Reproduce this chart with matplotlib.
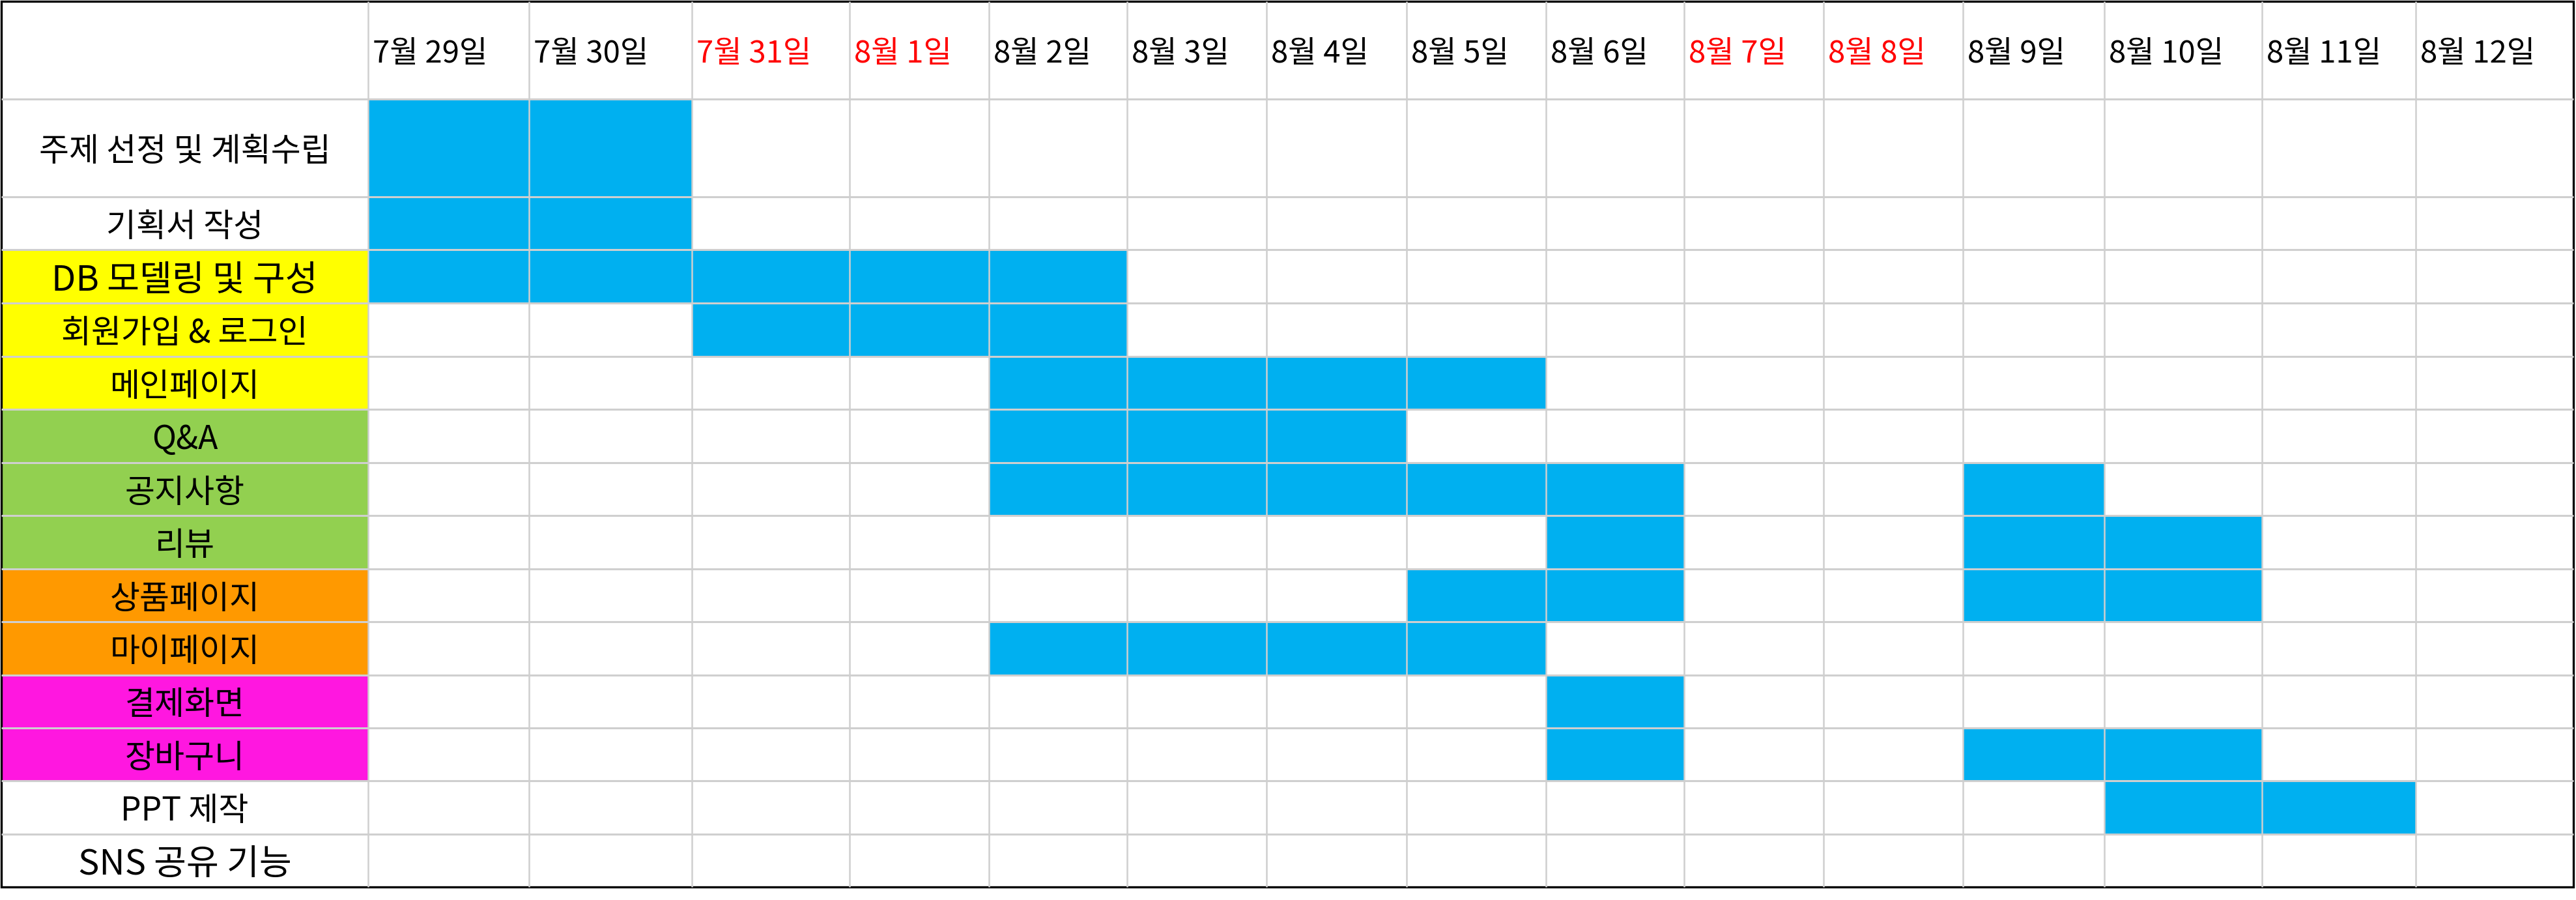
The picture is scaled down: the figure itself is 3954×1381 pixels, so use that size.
import matplotlib
matplotlib.use("Agg")
import matplotlib.pyplot as plt
from matplotlib.patches import Rectangle

plt.rcParams['font.family'] = ['Noto Sans CJK KR', 'DejaVu Sans']

# data
days = ['7월 29일', '7월 30일', '7월 31일', '8월 1일', '8월 2일', '8월 3일', '8월 4일',
        '8월 5일', '8월 6일', '8월 7일', '8월 8일', '8월 9일', '8월 10일', '8월 11일', '8월 12일']
holidays = ['7월 31일', '8월 1일', '8월 7일', '8월 8일']

tasks = ['주제 선정 및 계획수립', '기획서 작성', 'DB 모델링 및 구성', '회원가입 & 로그인',
         '메인페이지', 'Q&A', '공지사항', '리뷰', '상품페이지', '마이페이지',
         '결제화면', '장바구니', 'PPT 제작', 'SNS 공유 기능']
task_groups = ['none', 'none', 'base', 'base', 'base', 'board', 'board', 'board',
               'shop', 'shop', 'order', 'order', 'none', 'none']

# days worked on for each task
schedule = [
    ['7월 29일', '7월 30일'],
    ['7월 29일', '7월 30일'],
    ['7월 29일', '7월 30일', '7월 31일', '8월 1일', '8월 2일'],
    ['7월 31일', '8월 1일', '8월 2일'],
    ['8월 2일', '8월 3일', '8월 4일', '8월 5일'],
    ['8월 2일', '8월 3일', '8월 4일'],
    ['8월 2일', '8월 3일', '8월 4일', '8월 5일', '8월 6일', '8월 9일'],
    ['8월 6일', '8월 9일', '8월 10일'],
    ['8월 5일', '8월 6일', '8월 9일', '8월 10일'],
    ['8월 2일', '8월 3일', '8월 4일', '8월 5일'],
    ['8월 6일'],
    ['8월 6일', '8월 9일', '8월 10일'],
    ['8월 10일', '8월 11일'],
    [],
]

group_colors = {'none': 'white', 'base': '#FFFF00', 'board': '#92D050',
                'shop': '#FF9900', 'order': '#FF17E0'}
bar_color = '#00B0F0'
grid_color = '#CFCFCF'

# layout (pixels)
W, H = 3954, 1381
left, top = 2, 2
label_w = 563
col_w = [247, 250, 242, 214, 212, 214, 215, 214, 212, 214, 214, 217, 242, 236, 242]
header_h = 150
row_h = [150, 81, 82, 82, 81, 82, 81, 82, 81, 82, 81, 81, 82, 81]
text_dy = 6

x_edges = [left + label_w]
for w in col_w:
    x_edges.append(x_edges[-1] + w)
y_edges = [top + header_h]
for h in row_h:
    y_edges.append(y_edges[-1] + h)
right, bottom = x_edges[-1], y_edges[-1]

fig = plt.figure(figsize=(W / 100, H / 100), dpi=100)
ax = fig.add_axes([0, 0, 1, 1])
ax.set_xlim(0, W)
ax.set_ylim(H, 0)
ax.axis('off')

# label cells
for i, task in enumerate(tasks):
    y0, y1 = y_edges[i], y_edges[i + 1]
    ax.add_patch(Rectangle((left, y0), label_w, y1 - y0,
                           facecolor=group_colors[task_groups[i]], edgecolor='none'))
    size = 39 if task in ('DB 모델링 및 구성', 'SNS 공유 기능') else 36
    ax.text(left + label_w / 2, (y0 + y1) / 2 + text_dy, task, ha='center', va='center',
            fontsize=size, color='black')

# schedule cells
for i, worked in enumerate(schedule):
    y0, y1 = y_edges[i], y_edges[i + 1]
    for d in worked:
        j = days.index(d)
        ax.add_patch(Rectangle((x_edges[j], y0), x_edges[j + 1] - x_edges[j], y1 - y0,
                               facecolor=bar_color, edgecolor='none'))

# header
for j, d in enumerate(days):
    ax.text(x_edges[j] + 7, top + header_h / 2 + text_dy, d, ha='left', va='center',
            fontsize=34, color='red' if d in holidays else 'black')

# grid
for x in x_edges[:-1]:
    ax.plot([x, x], [top, bottom], color=grid_color, lw=1.8, solid_capstyle='butt')
for y in y_edges[:-1]:
    ax.plot([left, right], [y, y], color=grid_color, lw=2.2, solid_capstyle='butt')

# outer border
ax.add_patch(Rectangle((left, top), right - left, bottom - top,
                       facecolor='none', edgecolor='black', lw=2.4))

fig.savefig('out.png', dpi=100)
